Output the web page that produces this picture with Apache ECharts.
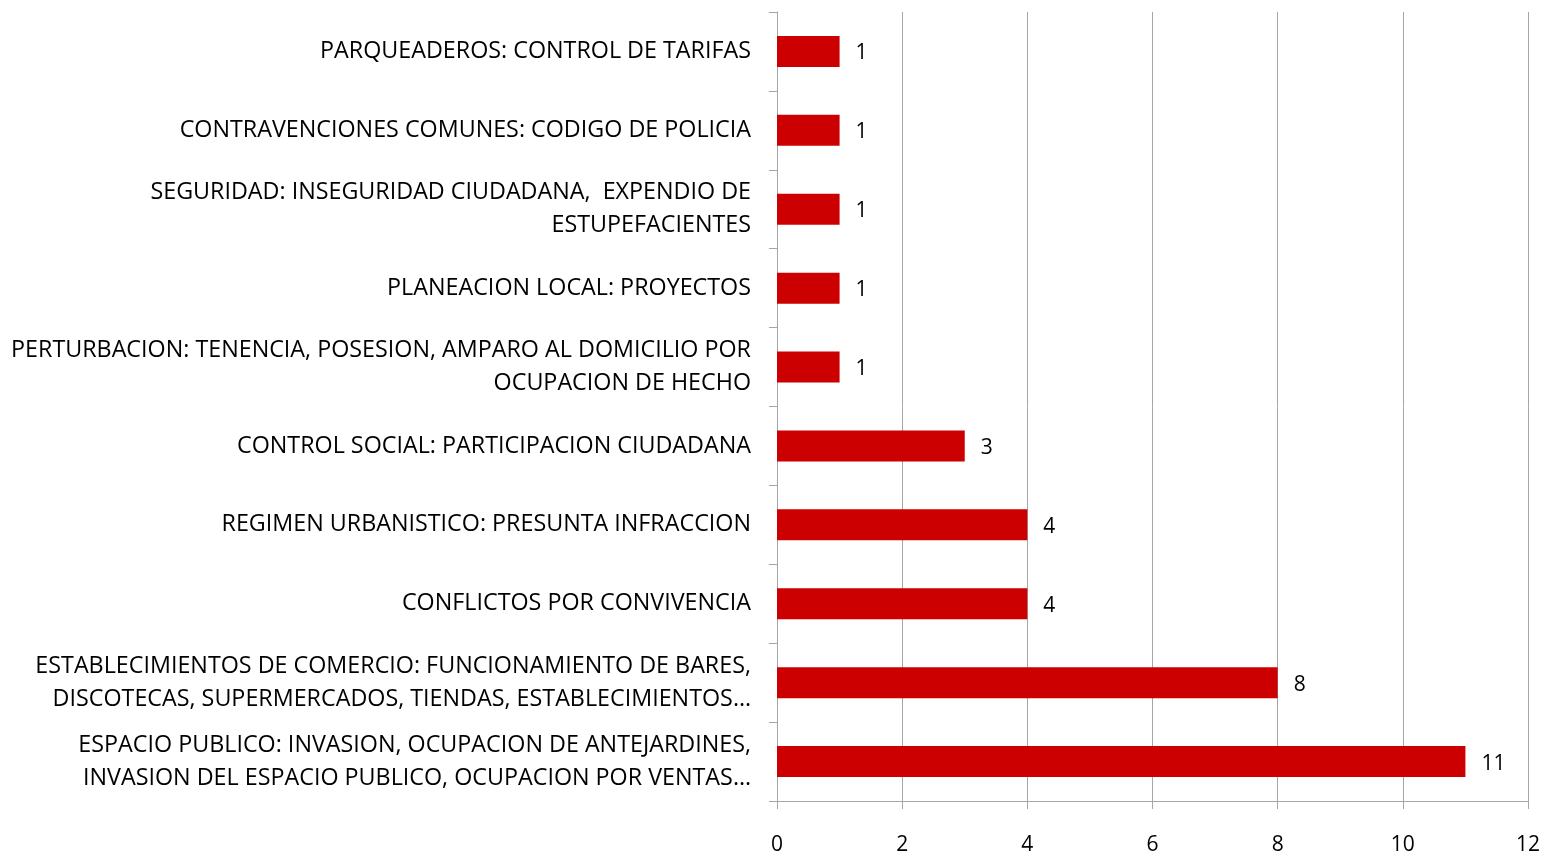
<!DOCTYPE html>
<html>
<head>
<meta charset="utf-8">
<script src="https://cdn.jsdelivr.net/npm/echarts@6/dist/echarts.min.js"></script>
<style>
  html, body { margin: 0; padding: 0; background: #fff; }
  #chart { width: 1544px; height: 856px; }
</style>
</head>
<body>
<div id="chart"></div>
<script>
// categories, bottom to top
const categories = [
    'ESPACIO PUBLICO: INVASION, OCUPACION DE ANTEJARDINES,\nINVASION DEL ESPACIO PUBLICO, OCUPACION POR VENTAS…',
    'ESTABLECIMIENTOS DE COMERCIO: FUNCIONAMIENTO DE BARES,\nDISCOTECAS, SUPERMERCADOS, TIENDAS, ESTABLECIMIENTOS…',
    'CONFLICTOS POR CONVIVENCIA',
    'REGIMEN URBANISTICO: PRESUNTA INFRACCION',
    'CONTROL SOCIAL: PARTICIPACION CIUDADANA',
    'PERTURBACION: TENENCIA, POSESION, AMPARO AL DOMICILIO POR\nOCUPACION DE HECHO',
    'PLANEACION LOCAL: PROYECTOS',
    'SEGURIDAD: INSEGURIDAD CIUDADANA,  EXPENDIO DE\nESTUPEFACIENTES',
    'CONTRAVENCIONES COMUNES: CODIGO DE POLICIA',
    'PARQUEADEROS: CONTROL DE TARIFAS'
];
const values = [11, 8, 4, 4, 3, 1, 1, 1, 1, 1];
const xTicks = [0, 2, 4, 6, 8, 10, 12];

const chart = echarts.init(document.getElementById('chart'));
const font = '"Open Sans", "Noto Sans", sans-serif';

chart.setOption({
    backgroundColor: '#fff',
    animation: false,
    grid: { left: 777, right: 16, top: 12, bottom: 53, containLabel: false },
    xAxis: {
        type: 'value',
        min: xTicks[0],
        max: xTicks[xTicks.length - 1],
        interval: 2,
        axisLine: { show: true, lineStyle: { color: '#a6a6a6', width: 1 } },
        axisTick: { show: true, length: 8, lineStyle: { color: '#a6a6a6' } },
        splitLine: { show: true, lineStyle: { color: '#a6a6a6', width: 1 } },
        axisLabel: { color: '#000', fontSize: 21, fontFamily: font, margin: 34 }
    },
    yAxis: {
        type: 'category',
        data: categories,
        axisLine: { show: true, lineStyle: { color: '#a6a6a6', width: 1 } },
        axisTick: { show: true, length: 8, lineStyle: { color: '#a6a6a6' } },
        axisLabel: {
            color: '#000', fontSize: 23.3, fontFamily: font, margin: 26,
            lineHeight: 33, align: 'right', padding: [3, 0, 0, 0]
        }
    },
    series: [{
        type: 'bar',
        data: values,
        barWidth: 31,
        itemStyle: { color: '#cc0000' },
        label: {
            show: true, position: 'right', distance: 16, offset: [0, 2],
            color: '#000', fontSize: 21, fontFamily: font
        }
    }]
});
</script>
</body>
</html>
